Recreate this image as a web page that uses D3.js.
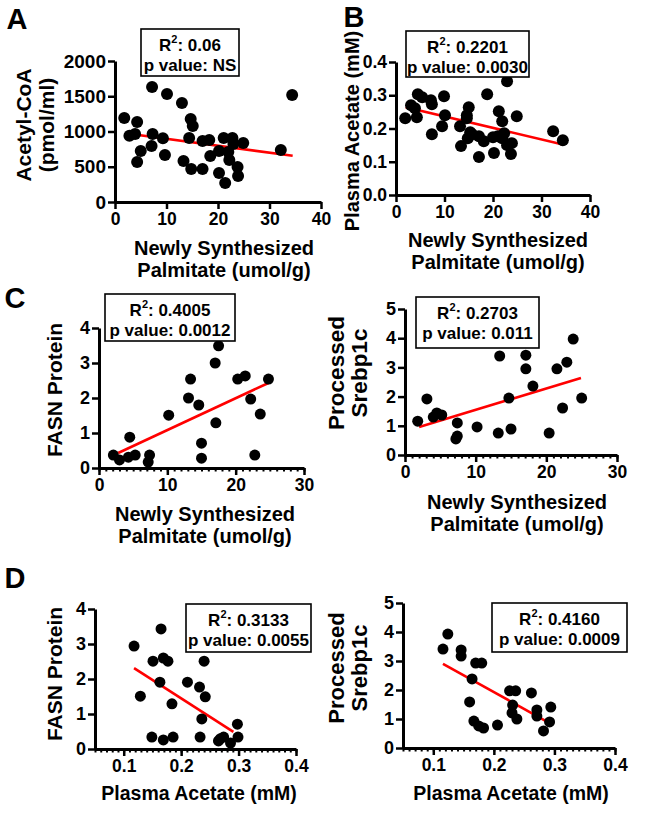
<!DOCTYPE html>
<html><head><meta charset="utf-8">
<script src="https://cdn.jsdelivr.net/npm/d3@7"></script>
<style>
body{margin:0;background:#fff}
text{font-family:"Liberation Sans",Arial,sans-serif;font-weight:bold;fill:#000}
</style>
</head><body>
<svg id="c" width="666" height="813"></svg>
<script>
// ---------- DATA ----------
// Panel A: Newly synthesized palmitate vs Acetyl-CoA
const aX = [7.2,10.1,13.0,34.4,1.8,4.3,14.7,15.1,2.8,3.9,7.3,9.3,5.0,7.1,4.3,9.7,14.4,17.0,18.3,21.1,22.8,23.0,24.9,32.2,13.3,14.8,17.0,18.5,20.2,22.0,22.2,23.8,23.9,20.2,21.4];
const aY = [1631,1532,1404,1518,1191,1135,1177,1078,940,965,964,905,723,794,567,667,908,865,879,908,908,823,837,738,581,468,468,652,723,709,596,496,369,411,269];
const aFitX = [2, 34.5], aFitY = [975, 655];
const aXTicks = [0,10,20,30,40], aYTicks = [0,500,1000,1500,2000];

// Panel B: Newly synthesized palmitate vs Plasma acetate
const bX = [22.9,18.8,4.5,5.4,7.2,7.4,9.9,3.1,3.9,1.9,4.3,10.1,15.0,14.6,14.6,21.2,21.9,24.9,9.5,13.2,15.3,22.3,32.4,7.4,34.4,13.4,14.8,15.7,17.1,18.1,17.1,20.0,20.2,21.0,21.9,22.9,23.9,23.7];
const bY = [0.342,0.303,0.303,0.294,0.285,0.273,0.297,0.270,0.261,0.231,0.234,0.240,0.264,0.240,0.231,0.252,0.222,0.237,0.207,0.207,0.189,0.186,0.192,0.183,0.165,0.147,0.171,0.183,0.177,0.162,0.114,0.174,0.126,0.177,0.171,0.150,0.156,0.123];
const bFitX = [2, 34.4], bFitY = [0.264, 0.152];
const bXTicks = [0,10,20,30,40], bYTicks = [0,0.1,0.2,0.3,0.4];

// Panel C left: palmitate vs FASN protein
const c1X = [17.5,17.0,13.4,20.3,21.4,24.8,13.1,14.6,22.2,10.2,23.6,17.1,4.5,15.0,2.1,3.0,4.3,5.3,7.4,7.2,15.0,22.8];
const c1Y = [3.49,3.00,2.54,2.54,2.63,2.54,2.00,1.80,1.97,1.51,1.54,1.29,0.88,0.71,0.37,0.23,0.31,0.37,0.37,0.17,0.28,0.37];
const c1FitX = [2.8, 24.8], c1FitY = [0.43, 2.43];
const c1XTicks = [0,10,20,30], c1YTicks = [0,1,2,3,4];

// Panel C right: palmitate vs processed Srebp1c
const c2X = [23.8,13.4,17.1,17.1,21.5,22.9,18.1,14.7,25.0,3.1,22.3,1.8,4.0,4.5,5.2,7.4,7.4,7.2,10.2,13.2,15.0,20.4];
const c2Y = [3.97,3.39,3.42,2.95,2.95,3.18,2.36,1.95,1.95,1.92,1.61,1.16,1.30,1.44,1.37,1.10,0.65,0.55,0.96,0.75,0.89,0.75];
const c2FitX = [2.0, 24.9], c2FitY = [0.96, 2.64];
const c2XTicks = [0,10,20,30], c2YTicks = [0,1,2,3,4,5];

// Panel D left: plasma acetate vs FASN protein
const d1X = [0.165,0.118,0.151,0.169,0.177,0.240,0.163,0.211,0.232,0.129,0.242,0.184,0.236,0.298,0.149,0.169,0.186,0.233,0.268,0.274,0.286,0.299,0.265];
const d1Y = [3.43,2.94,2.51,2.60,2.51,2.51,1.91,1.91,1.77,1.51,1.49,1.29,0.86,0.71,0.34,0.26,0.34,0.34,0.29,0.34,0.17,0.34,0.23];
const d1FitX = [0.118, 0.291], d1FitY = [2.31, 0.49];
const d1XTicks = [0.1,0.2,0.3,0.4], d1YTicks = [0,1,2,3,4];

// Panel D right: plasma acetate vs processed Srebp1c
const d2X = [0.124,0.116,0.146,0.146,0.170,0.180,0.164,0.160,0.167,0.175,0.183,0.206,0.226,0.236,0.231,0.230,0.238,0.262,0.271,0.271,0.294,0.292,0.282];
const d2Y = [3.93,3.41,3.38,3.17,2.93,2.93,2.38,1.59,0.93,0.76,0.69,0.79,1.97,1.97,1.48,1.21,1.00,1.90,1.31,1.10,1.41,0.90,0.59];
const d2FitX = [0.116, 0.292], d2FitY = [2.90, 0.86];
const d2XTicks = [0.1,0.2,0.3,0.4], d2YTicks = [0,1,2,3,4,5];

// ---------- DRAWING ----------
const svg = d3.select("#c");
const FF = '"Liberation Sans",Arial,sans-serif';

function panel(o){
  const x = d3.scaleLinear().domain(o.xd).range(o.xr);
  const y = d3.scaleLinear().domain(o.yd).range(o.yr);
  const g = svg.append("g");

  // regression line
  g.append("line")
    .attr("x1", x(o.fitX[0])).attr("y1", y(o.fitY[0]))
    .attr("x2", x(o.fitX[1])).attr("y2", y(o.fitY[1]))
    .attr("stroke", "#ff0000").attr("stroke-width", 2.6);

  // points
  g.selectAll("circle.p").data(o.xs.map((v,i)=>[v,o.ys[i]])).enter()
    .append("circle").attr("class","p")
    .attr("cx", d=>x(d[0])).attr("cy", d=>y(d[1])).attr("r", o.r).attr("fill","#000");

  // minor x ticks
  if (o.minor){
    const gm = g.append("g").attr("transform",`translate(0,${o.yr[0]})`)
      .call(d3.axisBottom(x).tickValues(o.minor).tickSize(3.5).tickFormat("").tickSizeOuter(0));
    gm.select(".domain").remove();
    gm.selectAll("line").attr("stroke","#000").attr("stroke-width",2);
  }
  // x axis
  const gx = g.append("g").attr("transform",`translate(0,${o.yr[0]})`)
    .call(d3.axisBottom(x).tickValues(o.xt).tickSize(7).tickSizeOuter(0).tickPadding(4)
      .tickFormat(o.xf || d3.format("d")));
  gx.select(".domain").attr("stroke","#000").attr("stroke-width",3);
  gx.selectAll(".tick line").attr("stroke","#000").attr("stroke-width",2.5);
  gx.selectAll("text").attr("font-size",o.xfs).attr("font-family",FF);
  // y axis
  const gy = g.append("g").attr("transform",`translate(${o.xr[0]},0)`)
    .call(d3.axisLeft(y).tickValues(o.yt).tickSize(7).tickSizeOuter(0).tickPadding(2)
      .tickFormat(o.yf || d3.format("d")));
  gy.select(".domain").attr("stroke","#000").attr("stroke-width",3);
  gy.selectAll(".tick line").attr("stroke","#000").attr("stroke-width",2.5);
  gy.selectAll("text").attr("font-size",o.yfs).attr("font-family",FF);

  // x title
  o.xTitle.forEach((t,i)=>{
    g.append("text").attr("x",o.xTitlePos[0]).attr("y",o.xTitlePos[1]+i*22)
      .attr("text-anchor","middle").attr("dominant-baseline","central")
      .attr("font-size",o.xts).text(t);
  });
  // y title
  o.yTitle.forEach((t,i)=>{
    g.append("text").attr("transform",`translate(${o.yTitlePos[0]+i*23},${o.yTitlePos[1]}) rotate(-90)`)
      .attr("text-anchor","middle").attr("dominant-baseline","central")
      .attr("font-size",o.yts).text(t);
  });

  // stats box
  const b = o.box;
  g.append("rect").attr("x",b[0]).attr("y",b[1]).attr("width",b[2]-b[0]).attr("height",b[3]-b[1])
    .attr("fill","#fff").attr("stroke","#000").attr("stroke-width",1.6);
  const cx = (b[0]+b[2])/2;
  const t1 = g.append("text").attr("x",cx).attr("y",b[1]+16).attr("text-anchor","middle")
    .attr("dominant-baseline","central").attr("font-size",17);
  t1.append("tspan").text("R");
  t1.append("tspan").attr("font-size",11).attr("dy",-6).text("2");
  t1.append("tspan").attr("dy",6).text(": " + o.r2);
  g.append("text").attr("x",cx).attr("y",b[1]+36).attr("text-anchor","middle")
    .attr("dominant-baseline","central").attr("font-size",17).text("p value: " + o.p);

  // panel letter (y given as baseline)
  if (o.letter){
    svg.append("text").attr("x",o.letter[1]).attr("y",o.letter[2]).attr("font-size",29)
      .attr("text-anchor","middle").text(o.letter[0]);
  }
}

const palm = ["Newly Synthesized","Palmitate (umol/g)"];
const dec1 = d3.format(".1f");

panel({xs:aX, ys:aY, fitX:aFitX, fitY:aFitY, xd:[0,40], xr:[115,321], yd:[0,2000], yr:[202,61],
  xt:aXTicks, yt:aYTicks, xfs:17.5, yfs:19, xts:20, yts:21, r:6, xTitle:palm, xTitlePos:[224,248], yTitle:["Acetyl-CoA","(pmol/ml)"],
  yTitlePos:[23,125], box:[141,29,239,76], r2:"0.06", p:"NS", letter:["A",17,29]});

panel({xs:bX, ys:bY, fitX:bFitX, fitY:bFitY, xd:[0,40], xr:[396,590], yd:[0,0.4], yr:[195,62],
  xt:bXTicks, yt:bYTicks, xfs:17.5, yfs:17.5, xts:20, yts:20, yf:dec1, r:6, xTitle:palm, xTitlePos:[498,240], yTitle:["Plasma Acetate (mM)"],
  yTitlePos:[352,131], box:[406,31,529,77], r2:"0.2201", p:"0.0030", letter:["B",354,27]});

panel({xs:c1X, ys:c1Y, fitX:c1FitX, fitY:c1FitY, xd:[0,30], xr:[99,304], yd:[0,4], yr:[468,328],
  xt:c1XTicks, yt:c1YTicks, xfs:17.5, yfs:18, xts:20, yts:21, minor:d3.range(0,31), r:5.5, xTitle:palm, xTitlePos:[205,514], yTitle:["FASN Protein"],
  yTitlePos:[54,390], box:[105,294,235,341], r2:"0.4005", p:"0.0012", letter:["C",15,308]});

panel({xs:c2X, ys:c2Y, fitX:c2FitX, fitY:c2FitY, xd:[0,30], xr:[405,617], yd:[0,5], yr:[455,309],
  xt:c2XTicks, yt:c2YTicks, xfs:17.5, yfs:18, xts:20, yts:22.5, minor:d3.range(0,31), r:5.5, xTitle:palm, xTitlePos:[517,502], yTitle:["Processed","Srebp1c"],
  yTitlePos:[336,373], box:[416,297,539,348], r2:"0.2703", p:"0.011"});

panel({xs:d1X, ys:d1Y, fitX:d1FitX, fitY:d1FitY, xd:[0.05,0.4], xr:[95,296], yd:[0,4], yr:[749,609],
  xt:d1XTicks, yt:d1YTicks, xfs:17.5, yfs:18, xts:19.5, yts:21, xf:dec1, minor:d3.range(5,41).map(v=>v/100), r:5.5, xTitle:["Plasma Acetate (mM)"], xTitlePos:[199,793],
  yTitle:["FASN Protein"], yTitlePos:[54,674], box:[186,604,311,652], r2:"0.3133", p:"0.0055", letter:["D",15,588]});

panel({xs:d2X, ys:d2Y, fitX:d2FitX, fitY:d2FitY, xd:[0.05,0.4], xr:[403,615], yd:[0,5], yr:[748,603],
  xt:d2XTicks, yt:d2YTicks, xfs:17.5, yfs:18, xts:19.5, yts:22, xf:dec1, minor:d3.range(5,41).map(v=>v/100), r:5.5, xTitle:["Plasma Acetate (mM)"], xTitlePos:[511,793],
  yTitle:["Processed","Srebp1c"], yTitlePos:[336,668], box:[492,603,627,652], r2:"0.4160", p:"0.0009"});
</script>
</body></html>
